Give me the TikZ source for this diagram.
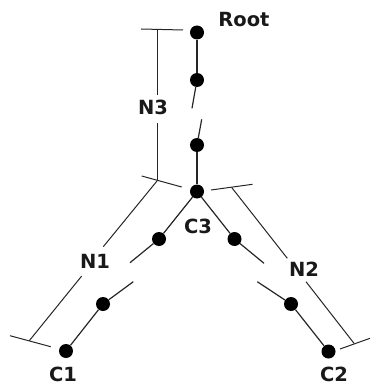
\documentclass[tikz,border=0pt]{standalone}
\usepackage{fontspec}
\setmainfont{DejaVu Sans}
\begin{document}
\begin{tikzpicture}[x=1pt,y=-1pt,
  dot/.style={circle,fill=black,inner sep=0pt,minimum size=14pt},
  edge/.style={line width=1.2pt,color=black!85},
  brace/.style={line width=1pt,color=black!85},
  lbl/.style={font=\bfseries\fontsize{19.5}{19.5}\selectfont,inner sep=0pt,text=black!90}]
\useasboundingbox (0,0) rectangle (370,385);

% tree vertices
\node[dot] (root) at (197,32.5) {};
\node[dot] (d1)   at (197,80) {};
\node[dot] (d2)   at (197,145) {};
\node[dot] (c3)   at (197,191.5) {};
\node[dot] (l1)   at (159,239) {};
\node[dot] (l2)   at (103,304) {};
\node[dot] (c1)   at (66,351) {};
\node[dot] (r1)   at (234.5,239) {};
\node[dot] (r2)   at (291,304) {};
\node[dot] (c2)   at (328.5,351.5) {};

% vertex labels
\node[lbl] (tRoot) at (244,19.5) {Root};
\node[lbl] (tC3) at (198,226.5) {C3};
\node[lbl] (tC1) at (63,374.5) {C1};
\node[lbl] (tC2) at (334,374) {C2};

% ends of the broken stretches
\coordinate (va) at (192,108.3);
\coordinate (vb) at (201.7,119.3);
\coordinate (la) at (130,262.7);
\coordinate (lb) at (133.3,281.7);
\coordinate (ra) at (264,263.3);
\coordinate (rb) at (257.3,281.7);

% edges
\draw[edge] (root) -- (d1);
\draw[edge] (d1) -- (va);
\draw[edge] (vb) -- (d2);
\draw[edge] (d2) -- (c3);
\draw[edge] (c3) -- (l1);
\draw[edge] (l1) -- (la);
\draw[edge] (lb) -- (l2);
\draw[edge] (l2) -- (c1);
\draw[edge] (c3) -- (r1);
\draw[edge] (r1) -- (ra);
\draw[edge] (rb) -- (r2);
\draw[edge] (r2) -- (c2);

% brackets with their labels
\node[lbl] (tN3) at (153,107.5) {N3};
\node[lbl] (tN1) at (95,261) {N1};
\node[lbl] (tN2) at (304,269.5) {N2};

\coordinate (n3tl) at (141,29);
\coordinate (n3tr) at (183,30);
\coordinate (n3t)  at (157,29.5);
\coordinate (n3a)  at (157,95);
\coordinate (n3b)  at (157,123);
\coordinate (j)    at (157,181);
\coordinate (jl)   at (141.7,176);
\coordinate (jr)   at (181.7,187);
\coordinate (n1a)  at (103.3,246.7);
\coordinate (n1b)  at (81.7,276);
\coordinate (n1e)  at (29.3,340.7);
\coordinate (n1l)  at (10,335.7);
\coordinate (n1r)  at (50.7,346.7);
\coordinate (n2l)  at (211,190);
\coordinate (n2r)  at (252.5,184.3);
\coordinate (n2s)  at (231.7,187.5);
\coordinate (n2a)  at (287.3,258.3);
\coordinate (n2b)  at (306,281.7);
\coordinate (n2e)  at (354,343.3);
\coordinate (n2bl) at (340,349);
\coordinate (n2br) at (370,338.3);

\draw[brace] (n3tl) -- (n3tr);
\draw[brace] (n3t) -- (n3a);
\draw[brace] (n3b) -- (j);
\draw[brace] (jl) -- (jr);
\draw[brace] (j) -- (n1a);
\draw[brace] (n1b) -- (n1e);
\draw[brace] (n1l) -- (n1r);
\draw[brace] (n2l) -- (n2r);
\draw[brace] (n2s) -- (n2a);
\draw[brace] (n2b) -- (n2e);
\draw[brace] (n2bl) -- (n2br);
\end{tikzpicture}
\end{document}
